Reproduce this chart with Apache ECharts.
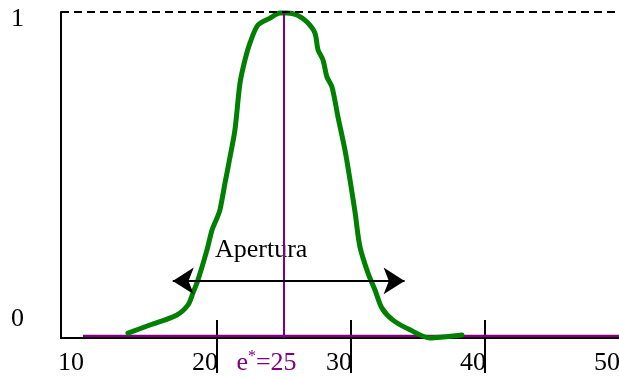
<!DOCTYPE html>
<html>
<head>
<meta charset="utf-8">
<script src="https://cdn.jsdelivr.net/npm/echarts@6/dist/echarts.min.js"></script>
<style>
  html, body { margin: 0; padding: 0; background: #fff; }
  #chart { width: 619px; height: 379px; }
</style>
</head>
<body>
<div id="chart"></div>
<script>
// Axis ranges and tick values
const xRange = [8.36, 50];
const yRange = [-0.0062, 1];
const xLabelValues = [10, 20, 25, 30, 40, 50];
const xTickValues = [20, 30, 40];
const yLabelValues = [0, 1];
const optimum = 25;          // e* = 25
const peakLevel = 1;

// Response profile (green curve)
const profileX = [13.36, 15.0, 17.01, 17.84, 18.21, 18.58, 19.25, 19.63, 20.0, 20.22, 20.6, 20.97,
  21.34, 21.72, 22.09, 22.46, 23.06, 23.96, 24.7, 25.22, 25.97, 26.72, 27.31, 27.54, 27.91,
  28.21, 28.58, 29.03, 29.55, 29.93, 30.3, 30.67, 31.27, 31.79, 32.31, 33.13, 34.4, 35.9,
  36.87, 38.28];
const profileY = [0.009, 0.034, 0.065, 0.096, 0.133, 0.173, 0.265, 0.327, 0.364, 0.389, 0.472, 0.552,
  0.636, 0.781, 0.852, 0.904, 0.96, 0.981, 0.997, 0.997, 0.991, 0.969, 0.935, 0.883, 0.852,
  0.799, 0.769, 0.676, 0.574, 0.481, 0.383, 0.275, 0.194, 0.142, 0.086, 0.049, 0.019, -0.006,
  -0.003, 0.003];

// Zero reference span and aperture arrow
const baselineX = [10, 50];
const aperturaX = [16.7, 34.0];
const aperturaY = 0.17;

const serif = "'Liberation Serif', 'Times New Roman', serif";
const purple = '#800080';
const green = '#008000';

const chart = echarts.init(document.getElementById('chart'), null, { renderer: 'canvas' });

chart.setOption({
  animation: false,
  backgroundColor: '#fff',
  grid: { left: 61, right: 0, top: 12, bottom: 41, containLabel: false, outerBoundsMode: 'none' },
  xAxis: [
    {
      type: 'value', position: 'bottom', min: xRange[0], max: xRange[1],
      splitLine: { show: false },
      axisLine: { show: true, onZero: false, lineStyle: { color: '#000', width: 2 } },
      axisTick: { show: true, customValues: xTickValues, length: 35, inside: false,
        lineStyle: { color: '#000', width: 2 } },
      axisLabel: {
        show: true, customValues: xLabelValues, margin: 12, hideOverlap: false,
        formatter: v => v === optimum
          ? '{p|e}{sup|*}{pe|=' + v + '}'
          : '{n|' + v + '}',
        rich: {
          n: { fontFamily: serif, fontSize: 26, lineHeight: 26, color: '#000', padding: [0, 24, 0, 0] },
          p: { fontFamily: serif, fontSize: 26, lineHeight: 26, color: purple },
          sup: { fontFamily: serif, fontSize: 16, lineHeight: 26, color: purple, padding: [0, 0, 12, 0] },
          pe: { fontFamily: serif, fontSize: 26, lineHeight: 26, color: purple, padding: [0, 35, 0, 0] }
        }
      }
    },
    {
      // short tick stubs rising above the bottom axis
      type: 'value', position: 'top', offset: -326, min: xRange[0], max: xRange[1],
      splitLine: { show: false },
      axisLine: { show: false },
      axisTick: { show: true, customValues: xTickValues, length: 18, inside: false,
        lineStyle: { color: '#000', width: 2 } },
      axisLabel: { show: false }
    }
  ],
  yAxis: [
    {
      type: 'value', min: yRange[0], max: yRange[1],
      splitLine: { show: false },
      axisLine: { show: true, onZero: false, lineStyle: { color: '#000', width: 2 } },
      axisTick: { show: false },
      axisLabel: {
        show: true, customValues: yLabelValues, margin: 37, align: 'right',
        formatter: v => (v === 1 ? '{a|1}' : '{b|0}'),
        rich: {
          a: { fontFamily: serif, fontSize: 26, lineHeight: 26, color: '#000', padding: [14, 0, 0, 0] },
          b: { fontFamily: serif, fontSize: 26, lineHeight: 26, color: '#000', padding: [0, 0, 34, 0] }
        }
      }
    },
    {
      type: 'value', position: 'right', min: yRange[0], max: yRange[1],
      splitLine: { show: false },
      axisLine: { show: true, onZero: false, lineStyle: { color: '#b0b0b0', width: 1, type: [7, 4] } },
      axisTick: { show: false },
      axisLabel: { show: false }
    }
  ],
  graphic: [
    {
      type: 'text', left: 215, top: 237, silent: true,
      style: { text: 'Apertura', fontFamily: serif, fontSize: 26, fill: '#000' }
    }
  ],
  series: [
    {
      // zero reference and optimum marker
      name: 'base', type: 'line', xAxisIndex: 0, yAxisIndex: 0,
      data: baselineX.map(x => [x, 0]),
      showSymbol: false, symbol: 'none',
      lineStyle: { color: purple, width: 2.5 },
      z: 2,
      markLine: {
        silent: true, symbol: 'none', animation: false,
        label: { show: false },
        data: [
          { xAxis: optimum, lineStyle: { color: purple, width: 2, type: 'solid' } },
          { yAxis: peakLevel, lineStyle: { color: '#000', width: 2, type: [8, 5] } }
        ]
      }
    },
    {
      name: 'apertura', type: 'line', xAxisIndex: 0, yAxisIndex: 0,
      data: [], symbol: 'none',
      markLine: {
        silent: true, animation: false,
        symbol: ['arrow', 'arrow'], symbolSize: [20, 21],
        label: { show: false },
        lineStyle: { color: '#000', width: 2, type: 'solid' },
        data: [[{ coord: [aperturaX[0], aperturaY] }, { coord: [aperturaX[1], aperturaY] }]]
      }
    },
    {
      name: 'profile', type: 'line', xAxisIndex: 0, yAxisIndex: 0,
      data: profileX.map((x, i) => [x, profileY[i]]),
      showSymbol: false, symbol: 'none', smooth: 0.3, clip: false,
      lineStyle: { color: green, width: 5, cap: 'round', join: 'round' },
      z: 3
    }
  ]
});
</script>
</body>
</html>
